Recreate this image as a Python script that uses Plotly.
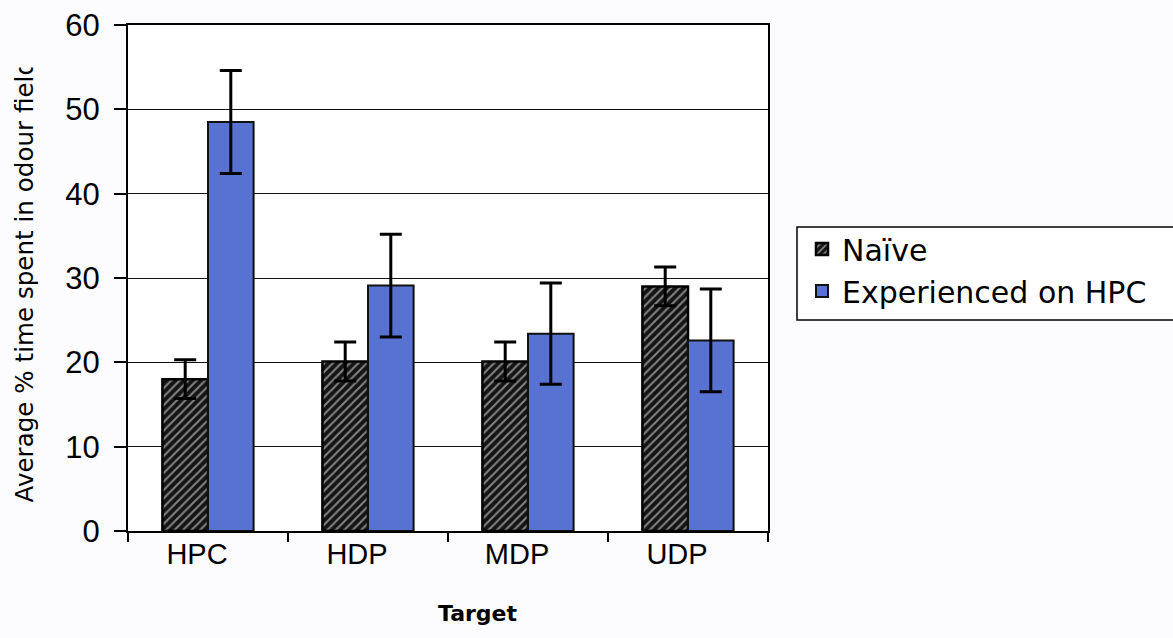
import plotly.graph_objects as go

# Odour-field preference: naive vs. HPC-experienced animals
targets = ["HPC", "HDP", "MDP", "UDP"]
naive_mean = [18.0, 20.1, 20.1, 29.0]
naive_sem = [2.3, 2.3, 2.3, 2.3]
experienced_mean = [48.5, 29.1, 23.4, 22.6]
experienced_sem = [6.1, 6.1, 6.0, 6.1]
y_ticks = [0, 10, 20, 30, 40, 50, 60]

W, H = 1173, 638
L, R, T, B = 128, 768, 25, 531  # plot-area edges in pixels


def px_x(px):
    return (px - L) / (R - L)


def px_y(py):
    return (B - py) / (B - T)


fig = go.Figure()
fig.add_trace(go.Bar(
    name="Naïve", x=targets, y=naive_mean,
    marker=dict(color="#141414",
                line=dict(color="#000000", width=2.5),
                pattern=dict(shape="/", fgcolor="#f0f0f0", size=6, solidity=0.35)),
    error_y=dict(type="data", array=naive_sem, visible=True,
                 color="#000000", thickness=3, width=11),
))
fig.add_trace(go.Bar(
    name="Experienced on HPC", x=targets, y=experienced_mean,
    marker=dict(color="#5872d2", line=dict(color="#111111", width=2)),
    error_y=dict(type="data", array=experienced_sem, visible=True,
                 color="#000000", thickness=3, width=11),
))

fig.update_layout(
    width=W, height=H,
    margin=dict(l=L, r=W - R, t=T, b=H - B, autoexpand=False),
    paper_bgcolor="#fcfbfe", plot_bgcolor="#ffffff",
    barmode="group", bargap=0.43, bargroupgap=0,
    font=dict(family="Liberation Sans, Arial", color="#000000"),
    showlegend=True,
    legend=dict(
        x=px_x(802), xanchor="left",
        y=px_y(223), yanchor="top",
        bgcolor="rgba(0,0,0,0)", borderwidth=0,
        font=dict(family="DejaVu Sans", size=30, color="#000000"),
    ),
    # legend frame; it runs past the right edge of the page
    shapes=[dict(
        type="rect", xref="paper", yref="paper",
        x0=px_x(797), x1=px_x(1200), y0=px_y(320), y1=px_y(227),
        line=dict(color="#000000", width=1.5), fillcolor="#ffffff",
        layer="below",
    )],
)

fig.update_xaxes(
    type="category", showline=True, linecolor="#000000", linewidth=2,
    mirror=True, ticks="outside", ticklen=9, tickwidth=1.5, tickcolor="#000000",
    tickson="boundaries", showgrid=False,
    ticklabelshift=-11, ticklabelstandoff=-4,
    tickfont=dict(family="Liberation Sans, Arial", size=29),
)
fig.update_yaxes(
    range=[0, 60], tickvals=y_ticks, showline=True, linecolor="#000000",
    linewidth=2, mirror=True, ticks="outside", ticklen=12, tickwidth=1.5,
    tickcolor="#000000", showgrid=True, gridcolor="#111111", gridwidth=1,
    zeroline=False, ticklabelstandoff=8,
    tickfont=dict(family="Liberation Sans, Arial", size=31),
)

# Axis titles
fig.add_annotation(
    text="Average % time spent in odour field", textangle=-90,
    xref="paper", yref="paper",
    x=px_x(24), y=px_y(285.5),
    xanchor="center", yanchor="middle",
    width=435, align="left", showarrow=False,
    font=dict(family="DejaVu Sans", size=24.6, color="#000000"),
)
fig.add_annotation(
    text="<b>Target</b>",
    xref="paper", yref="paper",
    x=px_x(478), y=px_y(613),
    xanchor="center", yanchor="middle", showarrow=False,
    font=dict(family="DejaVu Sans", size=22, color="#000000"),
)

fig.write_html("out.html")
